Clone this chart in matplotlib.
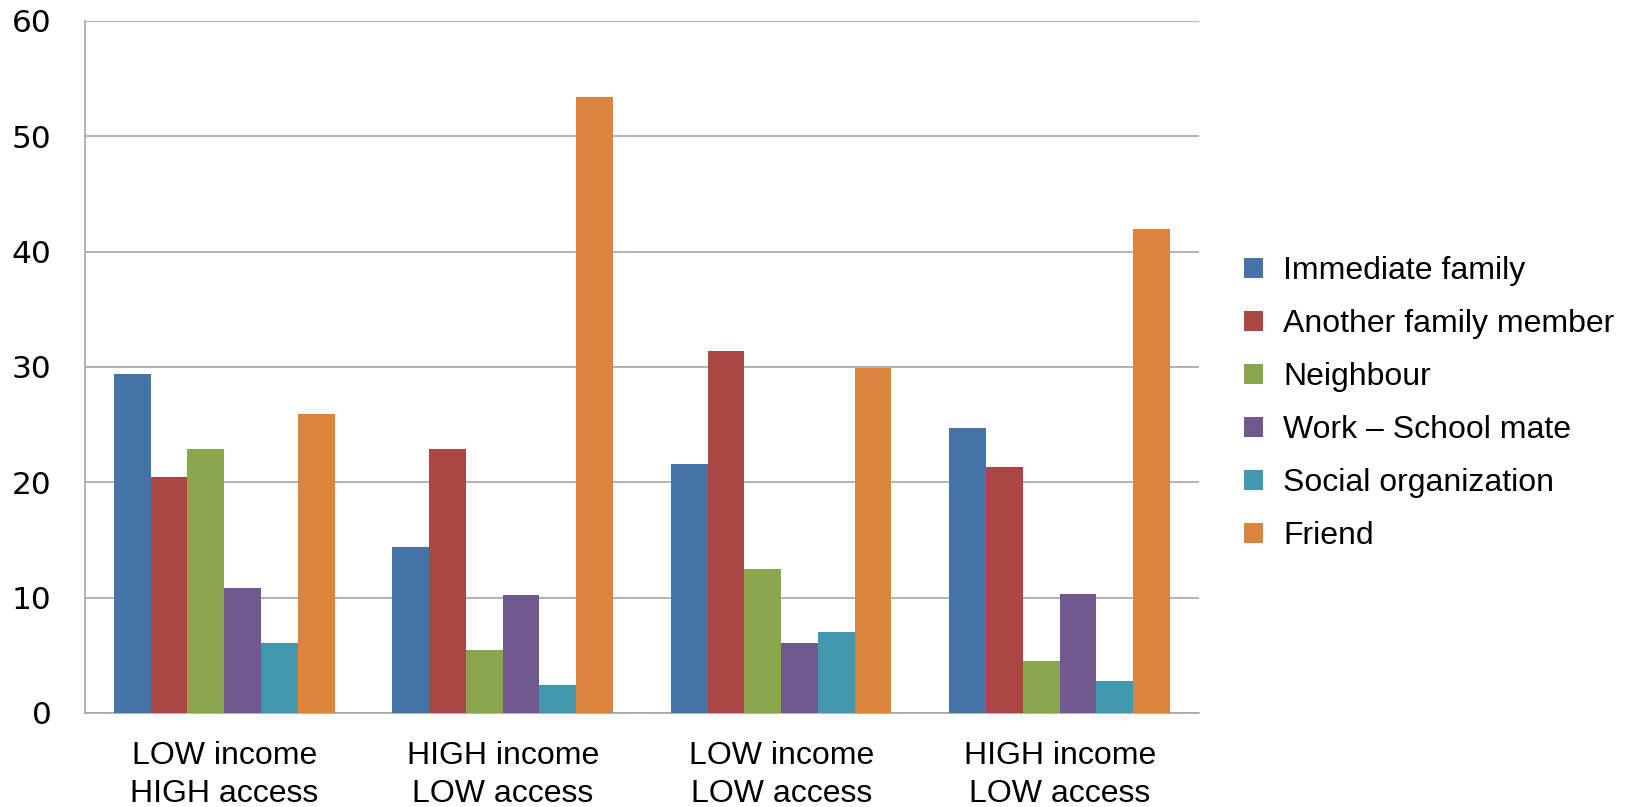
import matplotlib
matplotlib.use("Agg")
import matplotlib.pyplot as plt
import numpy as np

categories = ["LOW income\nHIGH access", "HIGH income\nLOW access", "LOW income\nLOW access", "HIGH income\nLOW access"]
series_names = ["Immediate family", "Another family member", "Neighbour", "Work – School mate", "Social organization", "Friend"]
immediate_family = [29.4, 14.4, 21.6, 24.7]
another_family = [20.5, 22.9, 31.4, 21.3]
neighbour = [22.9, 5.5, 12.5, 4.5]
work_school = [10.8, 10.2, 6.1, 10.3]
social_org = [6.1, 2.4, 7.0, 2.8]
friend = [25.9, 53.4, 29.9, 42.0]
colors = ["#4572A7", "#AA4643", "#89A54E", "#71588F", "#4198AF", "#DB843D"]

series = [immediate_family, another_family, neighbour, work_school, social_org, friend]

fig = plt.figure(figsize=(16.25, 8.07), dpi=100)
ax = fig.add_axes([0.0523, 0.1165, 0.6855, 0.8575])

x = np.arange(len(categories))
bw = 0.132
for i, (vals, name, c) in enumerate(zip(series, series_names, colors)):
    ax.bar(x + (i - 2.5) * bw, vals, bw, color=c, label=name, zorder=3)

ax.set_xlim(-0.5, len(categories) - 0.5)
ax.set_ylim(0, 60)
ax.set_yticks(range(0, 61, 10))
ax.yaxis.grid(True, color="#a6a6a6", linewidth=1.2, zorder=0)
for s in ["top", "right"]:
    ax.spines[s].set_visible(False)
for s in ["left", "bottom"]:
    ax.spines[s].set_color("#a6a6a6")
    ax.spines[s].set_linewidth(1.2)
ax.tick_params(axis="y", length=0, pad=24, labelsize=22.5)
ax.tick_params(axis="x", length=0, pad=20, labelsize=23)
for t in ax.get_yticklabels():
    t.set_family("DejaVu Sans")
ax.set_xticks(x)
ax.set_xticklabels(categories, family="Liberation Sans", linespacing=1.36)

leg = fig.legend(loc="center left", bbox_to_anchor=(0.7655, 0.50), frameon=False,
                 borderaxespad=0, borderpad=0,
                 prop={"family": "Liberation Sans", "size": 23},
                 handlelength=0.595, handleheight=0.595, handletextpad=0.63, labelspacing=0.72)

fig.savefig("out.png", dpi=100)
